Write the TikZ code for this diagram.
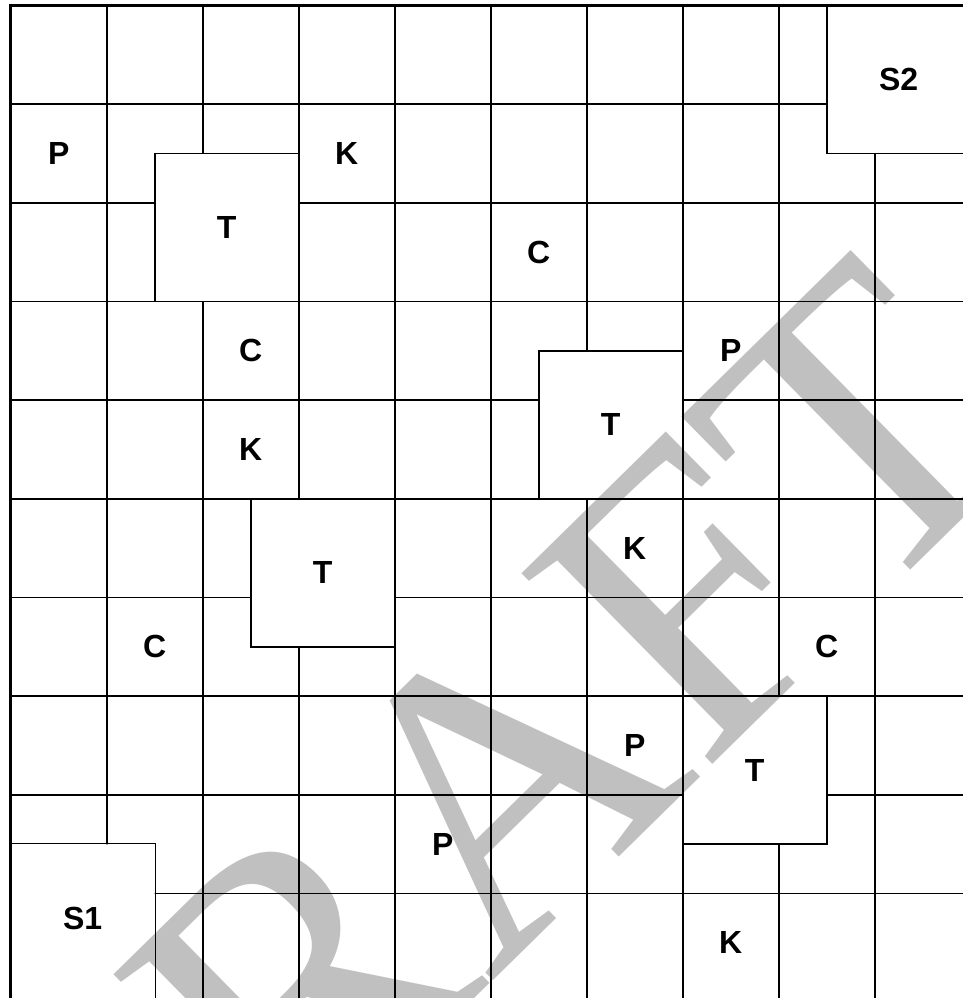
\documentclass[tikz,border=0pt]{standalone}
\usepackage{fontspec}
\setmainfont{Liberation Sans}
\newfontfamily\wmfont{Liberation Serif}
\definecolor{wmgray}{RGB}{192,192,192}
\tikzset{
  gridline/.style={line width=1.7pt, black},
  frameline/.style={line width=3.4pt, black, line cap=rect},
  boxline/.style={line width=1.7pt, black},
  lbl/.style={font=\fontsize{32}{32}\selectfont\bfseries, inner sep=0pt, text=black},
  bigbox/.style={draw=black, line width=1.7pt, minimum width=144pt, minimum height=148.05pt, inner sep=0pt, font=\fontsize{32}{32}\selectfont\bfseries},
  openbox/.style={bigbox, draw=none},
  wmark/.style={text=wmgray, inner sep=0pt, font=\fontsize{412}{412}\selectfont\wmfont, rotate=44.5}
}
\begin{document}
\begin{tikzpicture}
\useasboundingbox (0,0) rectangle (963pt,-998pt);
\clip (0,0) rectangle (963pt,-998pt);
\fill[white] (0,0) rectangle (963pt,-998pt);
\node[wmark] (wm) at (468.6pt,-814.3pt) {DRAFT};
\begin{scope}[shift={(10.7pt,-5.3pt)}, x=96pt, y=-98.7pt]
  \begin{scope}[even odd rule]
    \clip (-1,-1) -- (12,-1) -- (12,12) -- (-1,12) -- cycle
      (1.5,1.5) -- (1.5,3) -- (3,3) -- (3,1.5) -- cycle
      (8.5,-1) -- (8.5,1.5) -- (11,1.5) -- (11,-1) -- cycle
      (5.5,3.5) -- (5.5,5) -- (7,5) -- (7,3.5) -- cycle
      (2.5,5) -- (2.5,6.5) -- (4,6.5) -- (4,5) -- cycle
      (7,7) -- (7,8.5) -- (8.5,8.5) -- (8.5,7) -- cycle
      (-1,8.5) -- (-1,11) -- (1.5,11) -- (1.5,8.5) -- cycle;
    \foreach \i in {1,...,9} \draw[gridline] (\i,0) -- (\i,10.3);
    \foreach \j in {1,...,9} \draw[gridline] (0,\j) -- (10.3,\j);
  \end{scope}
  % large squares
  \node[bigbox] (T1) at (2.25,2.25) {T};
  \node[bigbox] (S2) at (9.25,0.75) {S2};
  \node[bigbox] (T2) at (6.25,4.25) {T};
  \node[bigbox] (T3) at (3.25,5.75) {T};
  \node[bigbox] (T4) at (7.75,7.75) {T};
  \node[openbox] (S1) at (0.75,9.25) {S1};
  \draw[boxline] (S1.north west) -- (S1.north east) -- ([yshift=-20pt]S1.south east);
  % cell labels
  \node[lbl] (P1) at (0.5,1.5) {P};
  \node[lbl] (K1) at (3.5,1.5) {K};
  \node[lbl] (C1) at (5.5,2.5) {C};
  \node[lbl] (C2) at (2.5,3.5) {C};
  \node[lbl] (P2) at (7.5,3.5) {P};
  \node[lbl] (K2) at (2.5,4.5) {K};
  \node[lbl] (K3) at (6.5,5.5) {K};
  \node[lbl] (C3) at (1.5,6.5) {C};
  \node[lbl] (C4) at (8.5,6.5) {C};
  \node[lbl] (P3) at (6.5,7.5) {P};
  \node[lbl] (P4) at (4.5,8.5) {P};
  \node[lbl] (K4) at (7.5,9.5) {K};
  % outer frame (top and left)
  \draw[frameline] (0,10.3) -- (0,0) -- (10.3,0);
\end{scope}
\end{tikzpicture}
\end{document}
